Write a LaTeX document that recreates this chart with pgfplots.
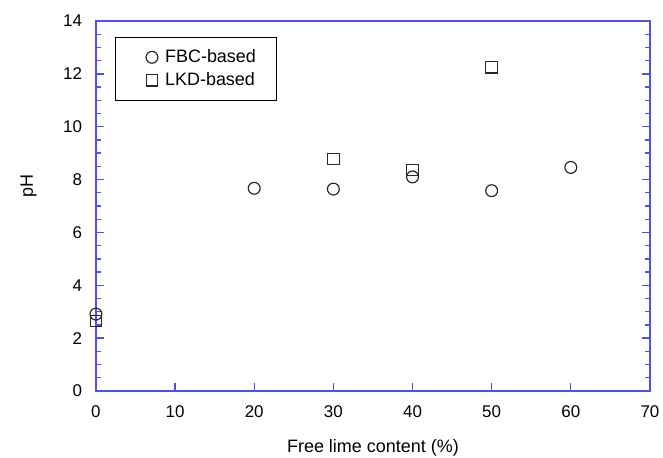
\documentclass[border=0pt]{standalone}
\usepackage{fontspec}
\setmainfont{Liberation Sans}
\usepackage{pgfplots}
\pgfplotsset{compat=1.18}
\definecolor{axblue}{RGB}{80,80,235}
\definecolor{mk}{RGB}{40,40,40}
\begin{document}
\fontsize{10.6}{12.7}\selectfont
\begin{tikzpicture}
\begin{axis}[
  width=326.9pt, height=218.3pt, scale only axis,
  xmin=0, xmax=70, ymin=0, ymax=14,
  xtick={0,10,...,70}, ytick={0,2,...,14},
  minor y tick num=3,
  tick align=inside,
  xtick pos=bottom, ytick pos=both,
  axis line style={axblue, line width=1pt},
  every tick/.style={axblue, line width=0.8pt},
  major tick length=4.7pt, minor tick length=3pt,
  /pgf/number format/assume math mode=true,
  tick label style={font=\fontsize{10}{12}\selectfont, black},
  yticklabel style={xshift=-4.5pt},
  xticklabel style={yshift=-4.9pt},
  xlabel={Free lime content (\%)},
  xlabel style={at={(axis description cs:0.5,-0.165)}, anchor=base, font=\fontsize{10.6}{12.7}\selectfont},
  ylabel={pH},
  ylabel style={at={(axis description cs:-0.1137,0.554)}, anchor=base, rotate=0, font=\fontsize{10.6}{12.7}\selectfont},
  legend style={at={(0.0343,0.957)}, anchor=north west, draw=black, line width=0.6pt,
    inner xsep=10.2pt, inner ysep=5pt, font=\fontsize{10.6}{12.7}\selectfont,
    nodes={inner ysep=2.1pt}},
  legend cell align=left,
  legend image code/.code={\path (0pt,0pt); \path (16.4pt,0pt); \draw[mark repeat=2,mark phase=2,#1] plot coordinates {(7pt,0pt)(11pt,0pt)(15pt,0pt)};},
  clip=false,
]
\addplot[only marks, mark=o, mark size=3.5pt, mk, line width=0.7pt] coordinates {
  (0,2.91) (20,7.67) (30,7.64) (40,8.1) (50,7.58) (60,8.46)};
\addplot[only marks, mark=square, mark size=3.4pt, mk, line width=0.7pt] coordinates {
  (0,2.65) (30,8.78) (40,8.36) (50,12.25)};
\legend{FBC-based, LKD-based}
\end{axis}
\pgfresetboundingbox
\path ([shift={(-56.6pt,-39.5pt)}]current axis.south west) rectangle ([shift={(7.7pt,12.4pt)}]current axis.north east);
\end{tikzpicture}
\end{document}
